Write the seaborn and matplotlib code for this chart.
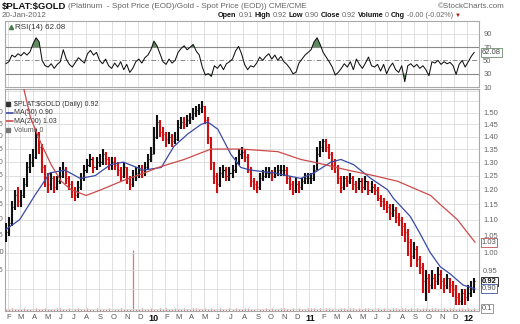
import numpy as np
import pandas as pd
import matplotlib
matplotlib.use("Agg")
import matplotlib.pyplot as plt
import matplotlib.dates as mdates
from matplotlib.ticker import FixedLocator, FixedFormatter, NullLocator, NullFormatter
import seaborn as sns

sns.set_style("white")
plt.rcParams["font.family"] = ["Liberation Sans", "DejaVu Sans"]

# ---- weekly price bars, $PLAT:$GOLD ratio, Jan 2009 - Jan 2012 ----
week_close = [
    1.06,
    1.09, 1.14, 1.18, 1.16,
    1.18, 1.22, 1.28, 1.30,
    1.32, 1.40, 1.36, 1.28,
    1.24, 1.22, 1.24, 1.21, 1.23,
    1.25, 1.27, 1.24, 1.22,
    1.20, 1.18, 1.21, 1.24, 1.27,
    1.29, 1.31, 1.28, 1.30,
    1.30, 1.33, 1.31, 1.29,
    1.30, 1.29, 1.27, 1.25, 1.28,
    1.24, 1.22, 1.25, 1.26,
    1.27, 1.26, 1.28, 1.31,
    1.33, 1.40, 1.46, 1.42, 1.41,
    1.39, 1.40, 1.38, 1.39,
    1.44, 1.46, 1.45, 1.47,
    1.48, 1.50, 1.51, 1.52, 1.53,
    1.47, 1.40, 1.30, 1.25,
    1.22, 1.26, 1.27, 1.25,
    1.26, 1.27, 1.30, 1.33, 1.34,
    1.32, 1.27, 1.23, 1.22,
    1.21, 1.24, 1.25, 1.26,
    1.26, 1.25, 1.26, 1.27, 1.27,
    1.27, 1.24, 1.22, 1.20,
    1.22, 1.21, 1.23, 1.24, 1.24,
    1.24, 1.27, 1.33, 1.36,
    1.38, 1.36, 1.33, 1.29,
    1.28, 1.24, 1.21, 1.24,
    1.23, 1.24, 1.22, 1.21, 1.23,
    1.21, 1.23, 1.20, 1.21,
    1.20, 1.17, 1.16, 1.15,
    1.14, 1.12, 1.13, 1.11, 1.10,
    1.08, 1.06, 1.03, 0.99,
    1.01, 0.98, 0.96, 0.92, 0.93,
    0.91, 0.93, 0.92, 0.94,
    0.92, 0.91, 0.93, 0.91,
    0.90, 0.88, 0.87, 0.89, 0.88,
    0.89, 0.90, 0.92,
]
week_high = [
    1.09,
    1.11, 1.16, 1.20, 1.21,
    1.20, 1.24, 1.30, 1.33,
    1.35, 1.43, 1.42, 1.37,
    1.29, 1.26, 1.26, 1.25, 1.25,
    1.28, 1.30, 1.28, 1.25,
    1.23, 1.21, 1.23, 1.26, 1.29,
    1.31, 1.33, 1.32, 1.32,
    1.33, 1.35, 1.34, 1.32,
    1.32, 1.32, 1.30, 1.28, 1.30,
    1.28, 1.25, 1.27, 1.28,
    1.29, 1.29, 1.30, 1.33,
    1.36, 1.44, 1.49, 1.47, 1.44,
    1.42, 1.42, 1.41, 1.42,
    1.47, 1.48, 1.48, 1.49,
    1.50, 1.52, 1.53, 1.54, 1.55,
    1.53, 1.48, 1.40, 1.30,
    1.26, 1.28, 1.29, 1.28,
    1.28, 1.29, 1.32, 1.35, 1.36,
    1.35, 1.33, 1.28, 1.24,
    1.23, 1.26, 1.27, 1.28,
    1.28, 1.27, 1.28, 1.29, 1.29,
    1.29, 1.28, 1.25, 1.23,
    1.24, 1.23, 1.24, 1.26, 1.26,
    1.26, 1.29, 1.36, 1.38,
    1.39, 1.39, 1.37, 1.34,
    1.31, 1.29, 1.25, 1.25,
    1.25, 1.26, 1.25, 1.23, 1.24,
    1.24, 1.25, 1.23, 1.23,
    1.22, 1.21, 1.18, 1.17,
    1.16, 1.15, 1.15, 1.14, 1.12,
    1.11, 1.09, 1.07, 1.04,
    1.03, 1.02, 0.99, 0.97, 0.95,
    0.94, 0.95, 0.94, 0.96,
    0.95, 0.93, 0.94, 0.93,
    0.92, 0.91, 0.89, 0.90, 0.90,
    0.91, 0.92, 0.93,
]
week_low = [
    1.03,
    1.05, 1.08, 1.13, 1.14,
    1.14, 1.17, 1.21, 1.26,
    1.28, 1.31, 1.33, 1.26,
    1.21, 1.19, 1.20, 1.19, 1.20,
    1.22, 1.24, 1.22, 1.20,
    1.17, 1.16, 1.17, 1.20, 1.23,
    1.26, 1.28, 1.26, 1.27,
    1.28, 1.29, 1.29, 1.27,
    1.27, 1.27, 1.25, 1.23, 1.24,
    1.22, 1.20, 1.21, 1.23,
    1.24, 1.24, 1.25, 1.27,
    1.30, 1.33, 1.39, 1.40, 1.38,
    1.36, 1.37, 1.36, 1.37,
    1.38, 1.43, 1.43, 1.44,
    1.45, 1.47, 1.48, 1.49, 1.50,
    1.45, 1.37, 1.27, 1.22,
    1.19, 1.21, 1.24, 1.23,
    1.23, 1.24, 1.26, 1.29, 1.31,
    1.30, 1.26, 1.21, 1.20,
    1.19, 1.20, 1.23, 1.24,
    1.24, 1.23, 1.24, 1.25, 1.25,
    1.25, 1.22, 1.20, 1.18,
    1.19, 1.19, 1.20, 1.22, 1.22,
    1.22, 1.23, 1.27, 1.32,
    1.34, 1.34, 1.31, 1.27,
    1.26, 1.22, 1.19, 1.20,
    1.21, 1.22, 1.20, 1.19, 1.20,
    1.19, 1.20, 1.18, 1.19,
    1.18, 1.16, 1.14, 1.13,
    1.12, 1.10, 1.11, 1.09, 1.08,
    1.05, 1.03, 0.99, 0.96,
    0.98, 0.96, 0.94, 0.89, 0.87,
    0.89, 0.90, 0.90, 0.91,
    0.90, 0.89, 0.90, 0.89,
    0.88, 0.86, 0.86, 0.86, 0.86,
    0.87, 0.88, 0.89,
]
rsi_14 = [
    45, 48, 58, 55, 60, 57, 62, 58, 63, 75, 84, 78, 50, 42,
    40, 45, 38, 44, 48, 66, 52, 44, 40, 47, 54, 50, 46,
    60, 65, 58, 62, 50, 45, 52, 42, 38, 46, 40, 48, 36, 44, 32, 38,
    48, 52, 46, 54, 58, 66, 79, 72, 60, 48, 44, 52, 46, 50,
    62, 68, 72, 66, 70, 74, 64, 58,
    40, 28, 30, 26, 42, 38, 44, 36, 45, 48, 52,
    64, 71, 60, 44, 36, 42, 40, 46, 55, 50, 56, 60,
    52, 58, 50, 56, 48, 44, 38, 30, 32,
    46, 52, 58, 62, 66, 78, 84, 74, 62, 55, 48,
    40, 28, 32, 38,
    45, 40, 48, 36, 52, 44, 38, 46, 55, 42, 40, 44,
    34, 44, 30, 40, 46, 36, 32, 42, 18,
    42, 45, 40, 44, 38, 42, 36, 27,
    48, 46, 50, 44, 48, 45, 47, 42, 29,
    44, 50, 40, 48, 56, 62.08,
]
volume = [
    1, 1, 2, 1, 1, 1, 2, 1, 1, 1, 2, 1, 1, 2, 1, 1, 1, 2, 2, 1,
    1, 2, 1, 1, 2, 1, 1, 2, 1, 1, 2, 1, 1, 1, 2, 1, 1, 1, 2, 1,
    1, 1, 40, 1, 1, 2, 1, 1,
    2, 1, 1, 2, 1, 2, 1, 1, 2, 1, 1, 2, 1, 1, 2, 2, 1, 1, 2, 1,
    2, 1, 1, 2, 1, 1, 2, 1, 2, 1, 1, 2, 2, 1, 1, 2, 1, 1, 2, 1,
    2, 1, 1, 2, 2, 1, 1, 2, 1, 2, 1, 1, 2,
    2, 2, 1, 2, 1, 2, 2, 1, 2, 1, 2, 2, 1, 2, 2, 1, 2, 1, 2, 2,
    1, 2, 2, 1, 2, 2, 1, 2, 2, 1, 2, 2, 1, 2, 2, 2, 1, 2, 2, 1,
    2, 2, 1, 2, 2, 1, 2, 2, 1, 2, 2, 1,
    2, 1, 2,
]

# ---- moving averages ----
ma50_dates = [
    "2009-01-29", "2009-03-01", "2009-04-05", "2009-05-10", "2009-06-14",
    "2009-07-19", "2009-08-23", "2009-09-27", "2009-10-27", "2009-12-13",
    "2010-01-23", "2010-02-21", "2010-03-25", "2010-04-25", "2010-05-11",
    "2010-06-03", "2010-07-03", "2010-07-26", "2010-08-18", "2010-10-10",
    "2010-12-12", "2011-01-12", "2011-02-20", "2011-03-15", "2011-04-14",
    "2011-05-23", "2011-07-01", "2011-07-15", "2011-08-23", "2011-09-13",
    "2011-10-08", "2011-10-31", "2011-11-23", "2011-12-23", "2012-01-20",
]
ma50_values = [
    1.07, 1.10, 1.18, 1.26, 1.27,
    1.24, 1.25, 1.29, 1.30, 1.27,
    1.28, 1.36, 1.41, 1.45, 1.46,
    1.43, 1.33, 1.28, 1.27, 1.26,
    1.24, 1.26, 1.30, 1.31, 1.29,
    1.24, 1.20, 1.17, 1.11, 1.06,
    1.00, 0.96, 0.94, 0.91, 0.90,
]
ma200_dates = [
    "2009-03-08", "2009-03-26", "2009-04-20", "2009-05-13", "2009-06-05",
    "2009-06-28", "2009-08-02", "2009-09-06", "2009-10-23", "2009-12-15",
    "2010-01-16", "2010-03-17", "2010-05-18", "2010-07-27", "2010-10-20",
    "2010-12-12", "2011-01-11", "2011-03-31", "2011-05-30", "2011-07-24",
    "2011-10-09", "2011-10-31", "2011-12-10", "2012-01-02", "2012-01-20",
]
ma200_values = [
    1.63, 1.48, 1.37, 1.29, 1.23,
    1.20, 1.18, 1.20, 1.23, 1.26,
    1.28, 1.31, 1.35, 1.35, 1.34,
    1.31, 1.30, 1.27, 1.25, 1.23,
    1.18, 1.15, 1.10, 1.06, 1.03,
]

price_ticks = [0.85, 0.90, 0.95, 1.00, 1.05, 1.10, 1.15, 1.20, 1.25,
               1.30, 1.35, 1.40, 1.45, 1.50, 1.55, 1.60]
price_labels = ["", "", "0.95", "1.00", "1.05", "1.10", "1.15", "1.20", "1.25",
                "1.30", "1.35", "1.40", "1.45", "1.50", "", ""]
rsi_ticks = [10, 30, 50, 70, 90]

W, H = 520, 324
fig = plt.figure(figsize=(W / 100, H / 100), dpi=100)


def rect(l, t, r, b):
    return [l / W, 1 - b / H, (r - l) / W, (b - t) / H]


ax_rsi = fig.add_axes(rect(5, 20.5, 479, 87))
ax = fig.add_axes(rect(5, 89, 479, 311))
ax_vol = ax.twinx()
ax.set_zorder(ax_vol.get_zorder() + 1)
ax.patch.set_visible(False)

weeks = pd.date_range("2009-01-28", periods=len(week_close), freq="7D")
wx = mdates.date2num(weeks.to_pydatetime())
close = np.array(week_close)
prev = np.r_[close[0], close[:-1]]
bar_colors = np.where(close >= prev, "#111111", "#d01010")

x0 = mdates.date2num(pd.Timestamp("2009-01-26").to_pydatetime())
x1 = mdates.date2num(pd.Timestamp("2012-01-29").to_pydatetime())
month_starts = pd.date_range("2009-02-01", "2012-01-01", freq="MS")
mx = mdates.date2num(month_starts.to_pydatetime())
month_text = [f"{d.year % 100:02d}" if d.month == 1 else "JFMAMJJASOND"[d.month - 1]
              for d in month_starts]

grid_c = "#dadada"
edge_c = "#a8a8a8"
for a in (ax_rsi, ax):
    a.set_xlim(x0, x1)
    a.xaxis.set_major_locator(FixedLocator(mx))
    a.xaxis.set_major_formatter(NullFormatter())
    a.grid(True, axis="x", which="major", color=grid_c, lw=0.6)
    for s in a.spines.values():
        s.set_color(edge_c)
        s.set_linewidth(0.8)
    a.tick_params(axis="both", which="both", length=0)

# ---- RSI panel ----
ax_rsi.set_ylim(10, 110)
ax_rsi.yaxis.tick_right()
ax_rsi.set_yticks(rsi_ticks)
ax_rsi.set_yticklabels([str(v) for v in rsi_ticks])
ax_rsi.tick_params(axis="y", labelsize=5.5, labelcolor="#666666", pad=3)
ax_rsi.set_xticklabels([])
for lvl in (10, 90):
    ax_rsi.axhline(lvl, color=grid_c, lw=0.6, zorder=1)
for lvl in (30, 70):
    ax_rsi.axhline(lvl, color="#8a8a8a", lw=0.8, zorder=2)
ax_rsi.axhline(50, color="#8a8a8a", lw=0.7, ls=(0, (5, 2, 1, 2)), zorder=2)
rsi_arr = np.array(rsi_14, dtype=float)
ax_rsi.fill_between(wx, 70, rsi_arr, where=rsi_arr >= 70, interpolate=True,
                    color="#5e8c5e", lw=0, zorder=3)
ax_rsi.fill_between(wx, 30, rsi_arr, where=rsi_arr <= 30, interpolate=True,
                    color="#5e8c5e", lw=0, zorder=3)
sns.lineplot(x=wx, y=rsi_arr, ax=ax_rsi, color="#111111", linewidth=0.75,
             estimator=None, sort=False, legend=False, zorder=4)
ax_rsi.set_xlabel("")
ax_rsi.set_ylabel("")
ax_rsi.plot([0.012], [0.90], marker="^", ms=3, color="#4d7a4d",
            transform=ax_rsi.transAxes, clip_on=False)
ax_rsi.text(0.022, 0.90, "RSI(14) 62.08", transform=ax_rsi.transAxes,
            fontsize=5.8, color="#333333", va="center", ha="left")

# ---- price panel ----
ax.set_yscale("log")
ax.set_ylim(0.844, 1.607)
ax.yaxis.set_major_locator(FixedLocator(price_ticks))
ax.yaxis.set_major_formatter(FixedFormatter(price_labels))
ax.yaxis.set_minor_locator(NullLocator())
ax.yaxis.set_minor_formatter(NullFormatter())
ax.yaxis.tick_right()
ax.grid(True, axis="y", which="major", color=grid_c, lw=0.6)
ax.tick_params(axis="y", labelsize=5.5, labelcolor="#666666", pad=3)

ax.xaxis.set_minor_locator(FixedLocator(mx + 3))
ax.xaxis.set_minor_formatter(FixedFormatter(month_text))
ax.tick_params(axis="x", which="minor", labelsize=5.5, labelcolor="#555555", pad=2)
for lbl in ax.get_xticklabels(minor=True):
    if lbl.get_text().isdigit():
        lbl.set_fontweight("bold")
        lbl.set_color("#111111")
        lbl.set_fontsize(6.5)

# volume underlay
ax_vol.set_ylim(0, 146)
ax_vol.vlines(wx, 0, volume, colors="#d47c7c", lw=0.9)
ax_vol.set_yticks([])
for s in ax_vol.spines.values():
    s.set_visible(False)

# OHLC-style bars: high-low stroke, open tick left, close tick right
ax.vlines(wx, week_low, week_high, colors=bar_colors, lw=1.5, zorder=3)
ax.hlines(prev, wx - 2.5, wx, colors=bar_colors, lw=0.8, zorder=3)
ax.hlines(week_close, wx, wx + 2.5, colors=bar_colors, lw=0.8, zorder=3)

ma50_x = mdates.date2num(pd.to_datetime(ma50_dates).to_pydatetime())
ma200_x = mdates.date2num(pd.to_datetime(ma200_dates).to_pydatetime())
sns.lineplot(x=ma50_x, y=ma50_values, ax=ax, color="#3a4aa8", linewidth=0.9,
             estimator=None, sort=False, legend=False, zorder=4)
sns.lineplot(x=ma200_x, y=ma200_values, ax=ax, color="#cc4a4a", linewidth=0.9,
             estimator=None, sort=False, legend=False, zorder=4)
ax.set_xlabel("")
ax.set_ylabel("")

# cut-off left-hand scale
for v, t in zip(price_ticks, price_labels):
    if t:
        ax.annotate(t, xy=(0, v), xycoords=("axes fraction", "data"),
                    xytext=(-1, 0), textcoords="offset points", ha="right",
                    va="center", fontsize=5.5, color="#666666",
                    annotation_clip=False)


def tag(axis, y, text, edge, color, coords="data", weight="normal"):
    axis.annotate(text, xy=(1, y), xycoords=("axes fraction", coords),
                  xytext=(2.0, 0), textcoords="offset points", ha="left",
                  va="center", fontsize=5.5, color=color, fontweight=weight,
                  bbox=dict(boxstyle="square,pad=0.12", fc="white", ec=edge, lw=0.6),
                  annotation_clip=False, zorder=10)


tag(ax, ma200_values[-1], "1.03", "#c05050", "#555555")
tag(ax, week_close[-1], "0.92", "#111111", "#111111", weight="bold")
tag(ax, ma50_values[-1], "0.90", "#4050a8", "#555555")
tag(ax, 0.012, "0.1", "#888888", "#555555", coords="axes fraction")
tag(ax_rsi, rsi_14[-1], "62.08", "#6a8a6a", "#444444")

# legend block of the price panel
lt = ax.transAxes
ax.plot([0.007], [0.931], marker="s", ms=2.2, color="#333333", transform=lt,
        clip_on=False)
ax.text(0.018, 0.931, r"\$PLAT:\$GOLD (Daily) 0.92", transform=lt, fontsize=5.0,
        color="#333333", va="center", ha="left")
ax.plot([0.002, 0.016], [0.894, 0.894], color="#3a4aa8", lw=1.2, transform=lt)
ax.text(0.018, 0.894, "MA(50) 0.90", transform=lt, fontsize=5.0,
        color="#333333", va="center", ha="left")
ax.plot([0.002, 0.016], [0.855, 0.855], color="#cc4a4a", lw=1.2, transform=lt)
ax.text(0.018, 0.855, "MA(200) 1.03", transform=lt, fontsize=5.0,
        color="#333333", va="center", ha="left")
ax.plot([0.007], [0.815], marker="s", ms=2.2, color="#777777", transform=lt,
        clip_on=False)
ax.text(0.018, 0.815, "Volume 0", transform=lt, fontsize=5.0,
        color="#555555", va="center", ha="left")

# ---- header ----
renderer = fig.canvas.get_renderer()


def run(x, y, parts, gap=2.2):
    for s, kw in parts:
        t = fig.text(x / W, 1 - y / H, s, ha="left", va="center", **kw)
        x = t.get_window_extent(renderer).x1 + gap
    return x


bold = dict(fontsize=5.2, fontweight="bold", color="#111111")
val = dict(fontsize=5.2, color="#666666")
run(1.5, 6.0, [(r"\$PLAT:\$GOLD", dict(fontsize=6.8, fontweight="bold", color="#111111")),
               ("(Platinum  - Spot Price (EOD)/Gold - Spot Price (EOD)) CME/CME",
                dict(fontsize=5.9, color="#666666"))], gap=2.5)
fig.text(505 / W, 1 - 6.0 / H, "\u00a9StockCharts.com", ha="right", va="center",
         fontsize=5.8, color="#666666")
fig.text(1.5 / W, 1 - 15.5 / H, "20-Jan-2012", ha="left", va="center",
         fontsize=5.8, color="#666666")
run(218, 15.5, [("Open", bold), ("0.91", val), ("High", bold), ("0.92", val),
                ("Low", bold), ("0.90", val), ("Close", bold), ("0.92", val),
                ("Volume", bold), ("0", val), ("Chg", bold), ("-0.00 (-0.02%)", val),
                ("\u25bc", dict(fontsize=4.3, color="#c01010"))], gap=1.8)

fig.savefig("out.png", dpi=100, facecolor="white")
